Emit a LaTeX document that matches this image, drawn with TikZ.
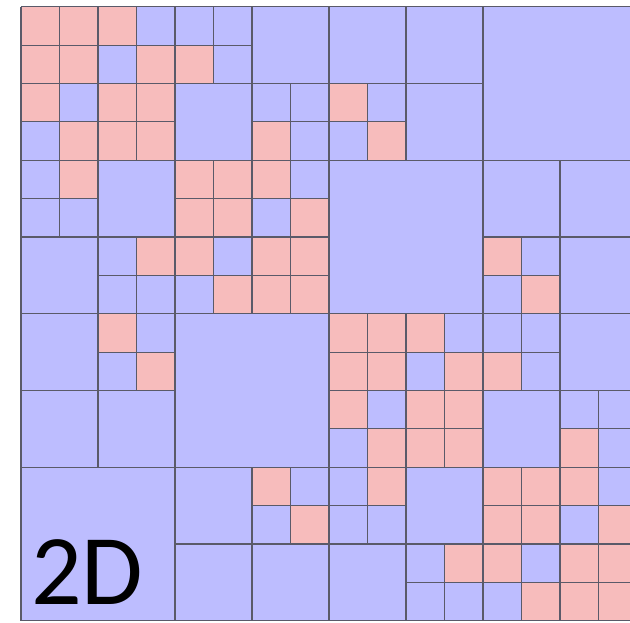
\documentclass[tikz,border=0pt]{standalone}
\usepackage{fontspec}
\setmainfont{Carlito}
\definecolor{cellblue}{RGB}{189,189,255}
\definecolor{cellpink}{RGB}{247,188,188}
\definecolor{gridline}{RGB}{90,90,105}
\begin{document}
\begin{tikzpicture}[
  gridpen/.style={draw=gridline,line width=1.1pt},
  pinkcell/.style={fill=cellpink},
  blockfill/.style={fill=cellblue,draw=gridline,line width=1.1pt},
  bigtext/.style={anchor=base west,inner sep=0pt,font=\fontsize{100}{100}\selectfont}
]
\useasboundingbox (0,0) rectangle (630pt,-622pt);
\fill[white] (0,0) rectangle (630pt,-622pt);
\begin{scope}
\clip (0,0) rectangle (630pt,-622pt);
\begin{scope}[shift={(21pt,-6.7pt)},x=38.5pt,y=-38.375pt]
  \fill[cellblue] (0,0) rectangle (16,16);
  \foreach \r/\cs in {0/{0,1,2},1/{0,1,3,4},2/{0,2,3,8},3/{1,2,3,6,9},
                      4/{1,4,5,6},5/{4,5,7},6/{3,4,6,7,12},7/{5,6,7,13},
                      8/{2,8,9,10},9/{3,8,9,11,12},10/{8,10,11},11/{9,10,11,14},
                      12/{6,9,12,13,14},13/{7,12,13,15},14/{11,12,14,15},15/{13,14,15}}{
    \foreach \c in \cs {\fill[pinkcell] (\c,\r) rectangle ++(1,1);}
  }
  \foreach \i in {0,...,16}{
    \draw[gridpen] (\i,0) -- (\i,16);
    \draw[gridpen] (0,\i) -- (16,\i);
  }
  \foreach \c/\r/\s in {12/0/4,0/12/4,8/4/4,4/8/4,
                        6/0/2,8/0/2,10/0/2,4/2/2,10/2/2,2/4/2,12/4/2,14/4/2,
                        0/6/2,14/6/2,0/8/2,0/10/2,2/10/2,4/12/2,4/14/2,6/14/2,
                        14/8/2,12/10/2,10/12/2,8/14/2}{
    \path[blockfill] (\c,\r) rectangle ++(\s,\s);
  }
\end{scope}
\end{scope}
\node[bigtext] (label2d) at (31pt,-604pt) {2D};
\end{tikzpicture}
\end{document}
